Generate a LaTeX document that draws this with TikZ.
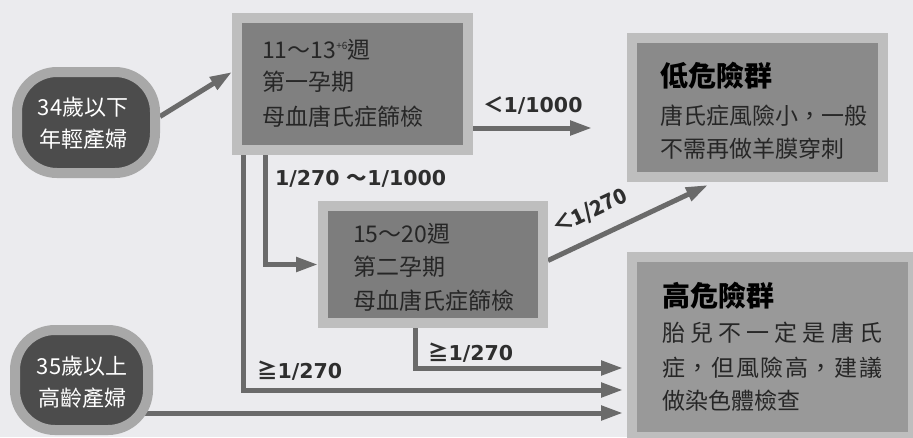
\documentclass[tikz,border=0pt]{standalone}
\usepackage{fontspec}
\setmainfont{DejaVu Sans}
\newfontfamily\cjk{Noto Sans CJK TC}
\usetikzlibrary{arrows.meta,calc}
\pgfdeclarelayer{bg}
\pgfsetlayers{bg,main}
\definecolor{bgc}{HTML}{EBEBEE}
\definecolor{framec}{HTML}{BEBEBE}
\definecolor{pillframe}{HTML}{A8A8A8}
\definecolor{pillfill}{HTML}{4C4C4C}
\definecolor{linec}{HTML}{6A6A6A}
\definecolor{labc}{HTML}{2E2E2E}
\tikzset{
  boxframe/.style={draw=framec, line width=10pt, inner sep=0pt, outer sep=5pt},
  pill/.style={draw=pillframe, fill=pillfill, line width=10pt, rounded corners=40pt, inner sep=0pt, outer sep=5pt},
  pilltext/.style={anchor=base, text=white, font=\cjk\fontsize{22}{22}\selectfont, inner sep=0pt},
  boxtext/.style={anchor=base west, text=black!85, font=\cjk\fontsize{23}{23}\selectfont, inner sep=0pt},
  titletext/.style={anchor=base west, text=black, font=\cjk\bfseries\fontsize{28}{28}\selectfont, inner sep=0pt},
  lab/.style={anchor=base west, text=labc, font=\bfseries\fontsize{20.5}{20.5}\selectfont, inner sep=0pt},
  conn/.style={draw=linec, line width=5pt, -{Triangle[length=22pt,width=14pt]}},
}
\begin{document}
\begin{tikzpicture}[x=1pt,y=-1pt]
\useasboundingbox (0,0) rectangle (913,437);
\begin{pgfonlayer}{bg}
\fill[bgc] (0,0) rectangle (913,437);
\end{pgfonlayer}
% nodes
\node[pill, minimum width=138pt, minimum height=101pt] (p1) at (86,122.5) {};
\node[pill, minimum width=133pt, minimum height=100pt] (p2) at (81.5,380) {};
\node[boxframe, fill=black!50, minimum width=231pt, minimum height=132pt] (b1) at (352.5,84) {};
\node[boxframe, fill=black!51, minimum width=220pt, minimum height=117pt] (b2) at (433,264.5) {};
\node[boxframe, fill=black!46, minimum width=251pt, minimum height=139pt] (low) at (757.5,107.5) {};
\node[boxframe, fill=black!40, minimum width=281pt, minimum height=180pt] (hi) at (772.5,347) {};
% texts
\node[pilltext] (p1a) at (83,115) {34歲以下};
\node[pilltext] (p1b) at (83,147) {年輕產婦};
\node[pilltext] (p2a) at (82,374) {35歲以上};
\node[pilltext] (p2b) at (82,406) {高齡產婦};
\node[boxtext] (b1a) at (262,58) {11～13{\fontsize{10}{10}\selectfont\raisebox{9pt}{+6}}週};
\node[boxtext] (b1b) at (262,90) {第一孕期};
\node[boxtext] (b1c) at (262,125) {母血唐氏症篩檢};
\node[boxtext] (b2a) at (353,242) {15～20週};
\node[boxtext] (b2b) at (353,275) {第二孕期};
\node[boxtext] (b2c) at (353,309) {母血唐氏症篩檢};
\node[titletext] (lowt) at (660,86) {低危險群};
\node[boxtext] (lowa) at (660,124) {唐氏症風險小，一般};
\node[boxtext] (lowb) at (660,157) {不需再做羊膜穿刺};
\node[titletext] (hit) at (662,306) {高危險群};
\node[boxtext] (hia) at (662,341) {\hbox to 220pt{胎\hfill 兒\hfill 不\hfill 一\hfill 定\hfill 是\hfill 唐\hfill 氏}};
\node[boxtext] (hib) at (662,376) {\hbox to 220pt{症\hfill ，\hfill 但\hfill 風\hfill 險\hfill 高\hfill ，\hfill 建\hfill 議}};
\node[boxtext] (hic) at (662,409) {做染色體檢查};
% labels
\node[lab] (l1) at (483,112) {{\cjk ＜}1/1000};
\node[lab] (l2) at (275,185) {1/270 {\cjk ～}1/1000};
\node[lab] (l3) at (428,360) {{\cjk ≧}1/270};
\node[lab] (l4) at (257,378) {{\cjk ≧}1/270};
\node[lab, anchor=center, rotate=25, font=\cjk\bfseries\fontsize{21}{21}\selectfont] (l5) at (590,212) {＜1/270};
% coordinates
\coordinate (s1) at ([xshift=11pt]b1.south west);
\coordinate (s2) at ([xshift=33pt]b1.south west);
\coordinate (s3) at ([xshift=97pt]b2.south west);
\coordinate (h1) at ([xshift=-4pt,yshift=-21pt]hi.west);
\coordinate (h2) at ([xshift=-4pt,yshift=-43pt]hi.west);
\coordinate (h3) at ([xshift=-4pt,yshift=-66pt]hi.west);
\coordinate (b1o) at ([yshift=-44pt]b1.east);
\coordinate (lowin) at ([xshift=-35pt]low.west);
\coordinate (lowtip) at ([xshift=81pt,yshift=-3pt]low.south west);
% connectors
\begin{pgfonlayer}{bg}
\draw[conn] ([yshift=6pt]p1.east) -- ([yshift=12pt]b1.west);
\draw[conn] (b1o) -- (b1o -| lowin);
\draw[conn] (s2) |- (b2.west);
\draw[conn] (s1) |- (h2);
\draw[conn] (s3) |- (h1);
\draw[conn] (h3 -| p2.center) -- (h3);
\draw[conn] ([yshift=4pt]b2.east) -- (lowtip);
\end{pgfonlayer}
\end{tikzpicture}
\end{document}
